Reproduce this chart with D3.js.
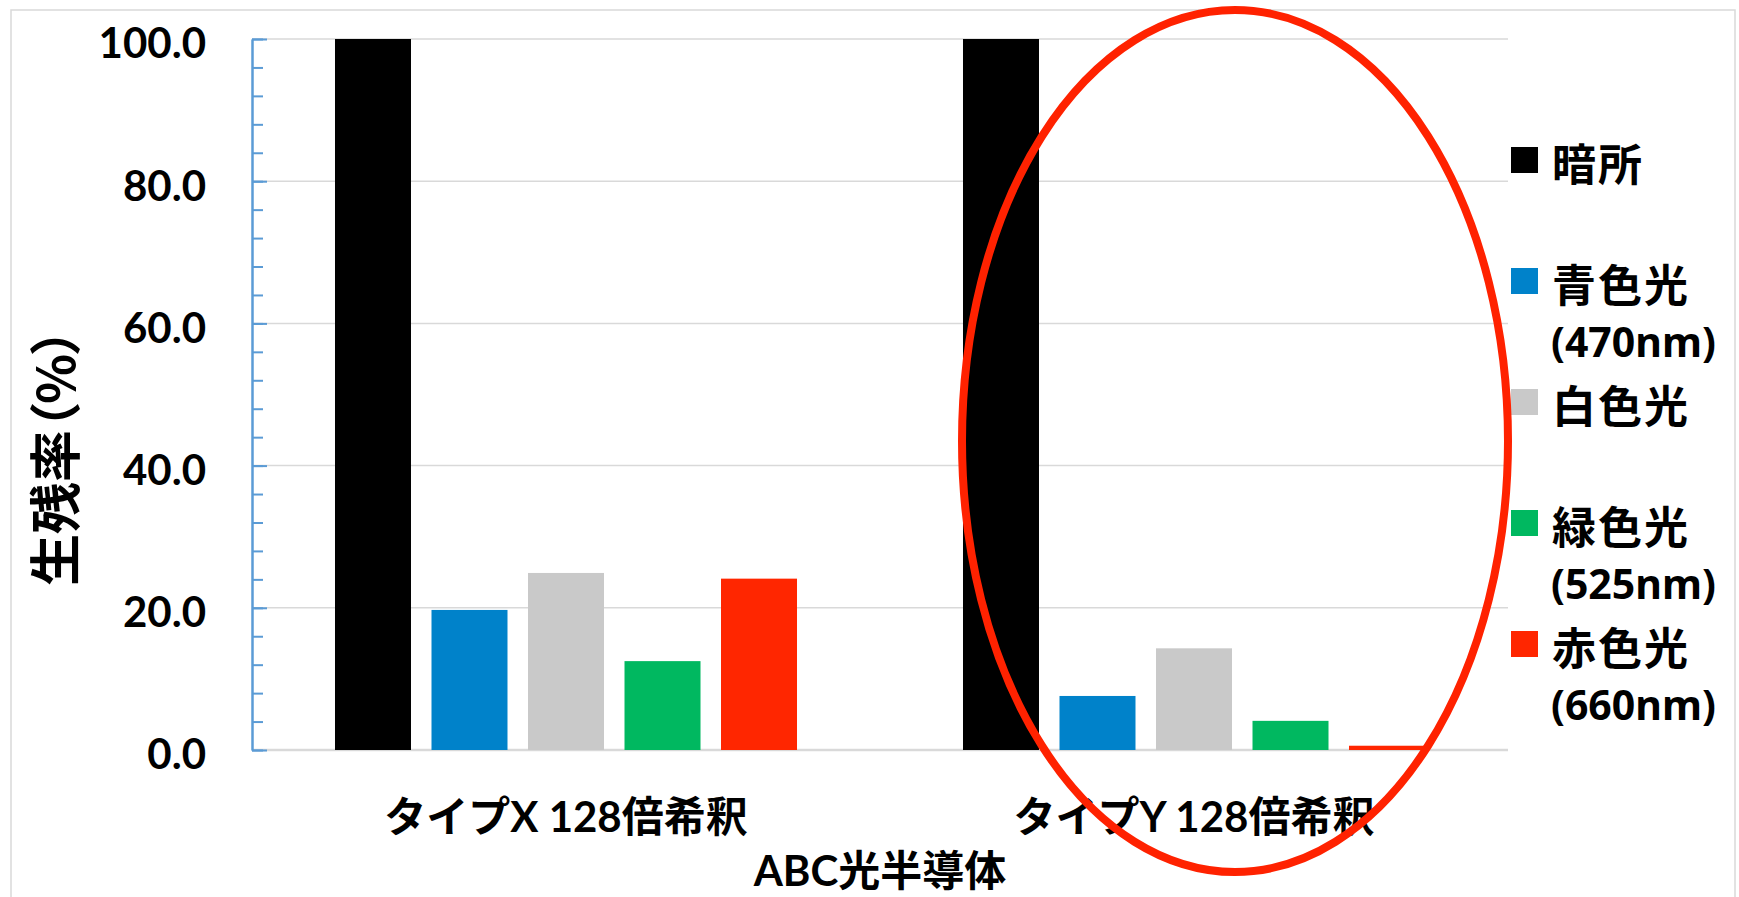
<!DOCTYPE html>
<html>
<head>
<meta charset="utf-8">
<script src="https://cdn.jsdelivr.net/npm/d3@7"></script>
<style>
  body { margin: 0; background: #fff; }
  svg text { font-weight: bold; fill: #000; }
</style>
</head>
<body>
<div id="chart"></div>
<script>
var svgWidth = 1739;
var svgHeight = 897;

// data
var categories = ["タイプX 128倍希釈", "タイプY 128倍希釈"];
var seriesNames = ["暗所", "青色光", "白色光", "緑色光", "赤色光"];
var seriesSub = ["", "(470nm)", "", "(525nm)", "(660nm)"];
var seriesColors = ["#000000", "#0082ca", "#c9c9c9", "#00b860", "#ff2600"];
var typeXValues = [100.0, 19.7, 24.9, 12.5, 24.1];
var typeYValues = [100.0, 7.6, 14.3, 4.1, 0.6];
var yTicks = [0, 20, 40, 60, 80, 100];
var yTitle = "生残率（%）";
var xTitle = "ABC光半導体";

var margin = { top: 39, right: 231, bottom: 147, left: 252 };
var width = svgWidth - margin.left - margin.right;
var height = svgHeight - margin.top - margin.bottom;

var latin = "Lato, 'Noto Sans CJK JP', sans-serif";
var legendFont = "'Noto Sans', 'Noto Sans CJK JP', sans-serif";

var svg = d3.select("#chart")
  .append("svg")
  .attr("width", svgWidth)
  .attr("height", svgHeight);

// chart area border
svg.append("rect")
  .attr("x", 11)
  .attr("y", 10)
  .attr("width", 1724)
  .attr("height", 920)
  .attr("fill", "none")
  .attr("stroke", "#d9d9d9")
  .attr("stroke-width", 1.5);

var chartGroup = svg.append("g")
  .attr("transform", `translate(${margin.left}, ${margin.top})`);

var yScale = d3.scaleLinear().domain([0, 100]).range([height, 0]);
var xScale = d3.scaleBand().domain(categories).range([0, width]);
var xSub = d3.scaleBand().domain(seriesNames)
  .range([0, xScale.bandwidth()])
  .paddingInner(0.2125)
  .paddingOuter(0.86);

// gridlines
chartGroup.append("g")
  .selectAll("line")
  .data(yTicks)
  .enter()
  .append("line")
  .attr("x1", 0)
  .attr("x2", width)
  .attr("y1", d => yScale(d))
  .attr("y2", d => yScale(d))
  .attr("stroke", "#d9d9d9")
  .attr("stroke-width", d => d === 0 ? 2.5 : 1.5);

// bars
var tableData = categories.map(function(c, i) {
  var vals = i === 0 ? typeXValues : typeYValues;
  return { category: c, values: seriesNames.map((s, j) => ({ name: s, value: vals[j], color: seriesColors[j] })) };
});

var groups = chartGroup.selectAll(".cat")
  .data(tableData)
  .enter()
  .append("g")
  .attr("class", "cat")
  .attr("transform", d => `translate(${xScale(d.category)}, 0)`);

groups.selectAll("rect")
  .data(d => d.values)
  .enter()
  .append("rect")
  .attr("x", d => xSub(d.name))
  .attr("width", xSub.bandwidth())
  .attr("y", d => yScale(d.value))
  .attr("height", d => yScale(0) - yScale(d.value))
  .attr("fill", d => d.color);

// y axis: minor then major ticks, pointing into the plot
var minorTicks = d3.range(0, 101, 4);
var minorAxis = chartGroup.append("g")
  .call(d3.axisLeft(yScale).tickValues(minorTicks).tickSizeInner(-11).tickSizeOuter(0).tickFormat(""));
var yAxis = chartGroup.append("g")
  .call(d3.axisLeft(yScale).tickValues(yTicks).tickSizeInner(-15).tickSizeOuter(0)
    .tickPadding(46).tickFormat(d3.format(".1f")));

[minorAxis, yAxis].forEach(function(ax) {
  ax.select(".domain").attr("stroke", "#5b9bd5").attr("stroke-width", 2);
  ax.selectAll(".tick line").attr("stroke", "#5b9bd5").attr("stroke-width", 2);
});
yAxis.selectAll(".tick text")
  .attr("font-family", latin)
  .attr("font-size", "42px")
  .attr("font-weight", "bold")
  .attr("fill", "#000")
  .attr("dy", "0.45em");

// category labels
chartGroup.append("g")
  .selectAll("text")
  .data(categories)
  .enter()
  .append("text")
  .attr("x", d => xScale(d) + xScale.bandwidth() / 2)
  .attr("y", height + 82)
  .attr("text-anchor", "middle")
  .attr("font-family", latin)
  .attr("font-size", "42px")
  .text(d => d);

// axis titles
svg.append("text")
  .attr("x", margin.left + width / 2)
  .attr("y", 886)
  .attr("text-anchor", "middle")
  .attr("font-family", latin)
  .attr("font-size", "42px")
  .text(xTitle);

svg.append("text")
  .attr("transform", "translate(52, 457) rotate(-90)")
  .attr("text-anchor", "middle")
  .attr("dominant-baseline", "central")
  .attr("font-family", "'Noto Sans CJK JP', sans-serif")
  .attr("font-size", "52px")
  .style("font-feature-settings", "'palt' 1")
  .text(yTitle);

// legend
var legend = svg.append("g")
  .attr("transform", "translate(1511, 160)");

var items = legend.selectAll("g")
  .data(seriesNames)
  .enter()
  .append("g")
  .attr("transform", (d, i) => `translate(0, ${i * 121})`);

items.append("rect")
  .attr("x", 0)
  .attr("y", -13)
  .attr("width", 27)
  .attr("height", 26)
  .attr("fill", (d, i) => seriesColors[i]);

items.append("text")
  .attr("x", 41)
  .attr("y", 4)
  .attr("dominant-baseline", "central")
  .attr("font-family", legendFont)
  .attr("font-size", "44px")
  .attr("letter-spacing", "2px")
  .text(d => d);

items.append("text")
  .attr("x", 40)
  .attr("y", 60)
  .attr("dominant-baseline", "central")
  .attr("font-family", legendFont)
  .attr("font-size", "41px")
  .text((d, i) => seriesSub[i]);

// red highlight ellipse around タイプY
svg.append("ellipse")
  .attr("cx", 1235)
  .attr("cy", 441)
  .attr("rx", 273)
  .attr("ry", 431)
  .attr("fill", "none")
  .attr("stroke", "#ff2200")
  .attr("stroke-width", 8);
</script>
</body>
</html>
